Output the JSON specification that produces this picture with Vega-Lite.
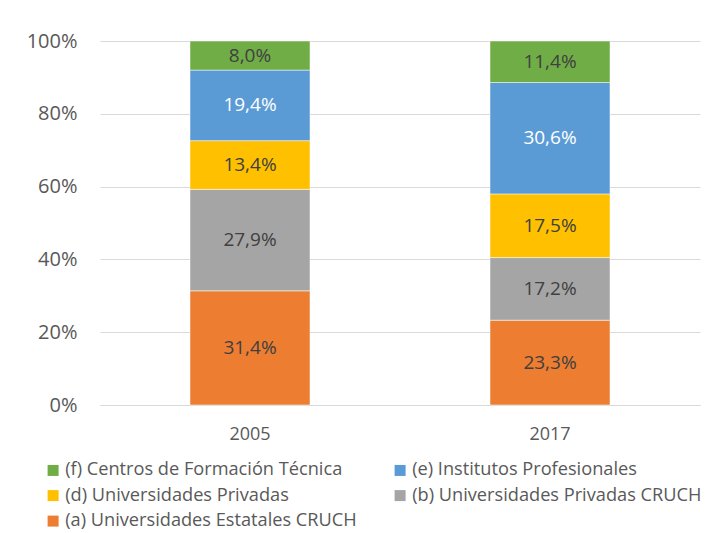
{
  "$schema": "https://vega.github.io/schema/vega-lite/v6.json",
  "autosize": {"type": "none"},
  "padding": {"left": 100, "top": 41, "right": 23, "bottom": 128},
  "width": 600,
  "height": 364,
  "background": "white",
  "config": {
    "view": {"stroke": null},
    "font": "Open Sans",
    "locale": {"number": {"decimal": ",", "thousands": ".", "grouping": [3], "currency": ["", " €"]}}
  },
  "data": {
    "values": [
      {"year": "2005", "category": "(a) Universidades Estatales CRUCH", "value": 0.314},
      {"year": "2005", "category": "(b) Universidades Privadas CRUCH", "value": 0.279},
      {"year": "2005", "category": "(d) Universidades Privadas", "value": 0.134},
      {"year": "2005", "category": "(e) Institutos Profesionales", "value": 0.194},
      {"year": "2005", "category": "(f) Centros de Formación Técnica", "value": 0.080},
      {"year": "2017", "category": "(a) Universidades Estatales CRUCH", "value": 0.233},
      {"year": "2017", "category": "(b) Universidades Privadas CRUCH", "value": 0.172},
      {"year": "2017", "category": "(d) Universidades Privadas", "value": 0.175},
      {"year": "2017", "category": "(e) Institutos Profesionales", "value": 0.306},
      {"year": "2017", "category": "(f) Centros de Formación Técnica", "value": 0.114}
    ]
  },
  "encoding": {
    "x": {
      "field": "year", "type": "nominal",
      "scale": {"paddingInner": 0.6, "paddingOuter": 0.3},
      "axis": {"title": null, "labelAngle": 0, "ticks": false, "domainColor": "#d9d9d9", "labelFontSize": 18, "labelColor": "#595959", "labelPadding": 20}
    },
    "y": {
      "field": "value", "type": "quantitative", "stack": "normalize",
      "scale": {"domain": [0, 1]},
      "axis": {"title": null, "values": [0, 0.2, 0.4, 0.6, 0.8, 1], "format": ".0%", "ticks": false, "domain": false, "gridColor": "#d9d9d9", "labelFontSize": 20, "labelColor": "#595959", "labelPadding": 23}
    },
    "order": {"field": "category", "sort": "ascending"}
  },
  "layer": [
    {
      "mark": {"type": "bar", "stroke": "white", "strokeWidth": 0.5},
      "encoding": {
        "color": {
          "field": "category", "type": "nominal",
          "scale": {
            "domain": ["(f) Centros de Formación Técnica", "(d) Universidades Privadas", "(a) Universidades Estatales CRUCH", "(e) Institutos Profesionales", "(b) Universidades Privadas CRUCH"],
            "range": ["#70AD47", "#FFC000", "#ED7D31", "#5B9BD5", "#A5A5A5"]
          },
          "legend": {
            "title": null, "orient": "none", "legendX": -56, "legendY": 420, "columns": 2, "columnPadding": 34, "rowPadding": 6.5,
            "symbolType": "square", "symbolSize": 121, "symbolStrokeWidth": 0, "labelFontSize": 18.2, "labelColor": "#595959", "labelOffset": 3, "labelLimit": 400
          }
        }
      }
    },
    {
      "mark": {"type": "text", "fontSize": 19},
      "encoding": {
        "y": {"field": "value", "type": "quantitative", "stack": "normalize", "bandPosition": 0.5},
        "text": {"field": "value", "type": "quantitative", "format": ".1%"},
        "color": {
          "condition": {"test": "datum.category === '(e) Institutos Profesionales'", "value": "white"},
          "value": "#404040"
        }
      }
    }
  ]
}
